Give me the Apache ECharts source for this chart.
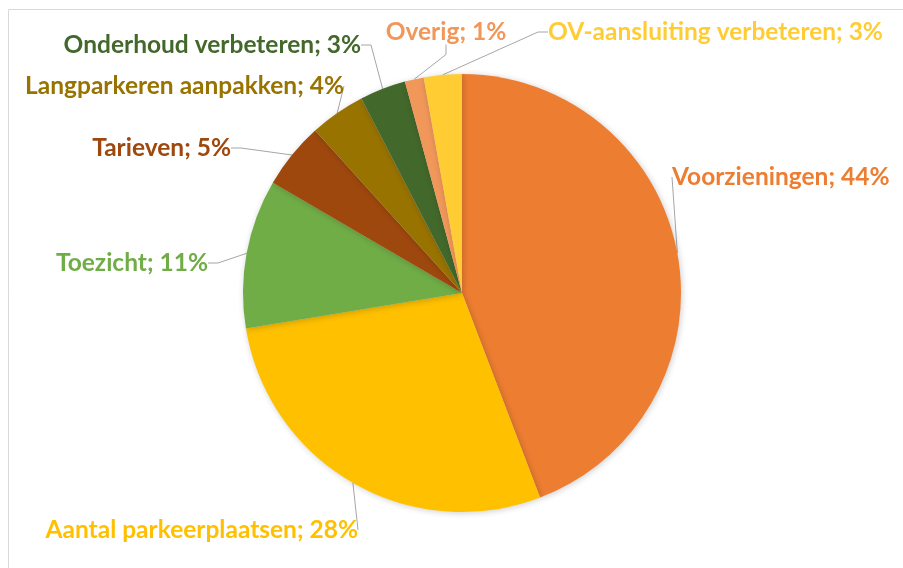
<!DOCTYPE html>
<html>
<head>
<meta charset="utf-8">
<script src="https://cdn.jsdelivr.net/npm/echarts@6/dist/echarts.min.js"></script>
<style>
  html, body { margin: 0; padding: 0; background: #fff; }
  #chart { width: 903px; height: 568px; }
</style>
</head>
<body>
<div id="chart"></div>
<script>
const categories = ['Voorzieningen', 'Aantal parkeerplaatsen', 'Toezicht', 'Tarieven',
  'Langparkeren aanpakken', 'Onderhoud verbeteren', 'Overig', 'OV-aansluiting verbeteren']
const shares = [44.2, 28.2, 11.0, 4.9, 4.1, 3.4, 1.4, 2.8]
const colors = ['#ED7D31', '#FFC000', '#70AD47', '#9E480E', '#997300', '#43682B', '#F1975A', '#FFCD33']

// where each label sits (anchor x, y, alignment)
const labelPos = [
  [672, 177, 'left'],
  [358, 530, 'right'],
  [208, 263, 'right'],
  [231, 148, 'right'],
  [344, 86, 'right'],
  [361, 45, 'right'],
  [446, 32, 'center'],
  [548, 32, 'left'],
]

const chart = echarts.init(document.getElementById('chart'))
chart.setOption({
  animation: false,
  graphic: [{
    type: 'rect',
    shape: { x: 8.5, y: 9.5, width: 920, height: 600 },
    style: { fill: 'none', stroke: '#d9d9d9', lineWidth: 1 },
    silent: true,
  }],
  series: [{
    type: 'pie',
    center: [462, 293],
    radius: 219,
    startAngle: 90,
    clockwise: true,
    data: categories.map((name, i) => ({ name, value: shares[i], itemStyle: { color: colors[i] }, label: { color: colors[i] } })),
    itemStyle: { shadowBlur: 6, shadowColor: 'rgba(0,0,0,0.2)', shadowOffsetX: 1, shadowOffsetY: 1 },
    label: {
      show: true,
      formatter: p => p.name + '; ' + Math.round(p.percent) + '%',
      fontFamily: 'Lato',
      fontWeight: 'bold',
      fontSize: 24.5,
      overflow: 'none',
      width: 400,
    },
    labelLine: { show: true, length: 10, length2: 10, lineStyle: { color: '#a6a6a6', width: 1 } },
    labelLayout: p => {
      const [x, y, align] = labelPos[p.dataIndex]
      return { x, y, align, verticalAlign: 'middle' }
    },
  }],
})
</script>
</body>
</html>
